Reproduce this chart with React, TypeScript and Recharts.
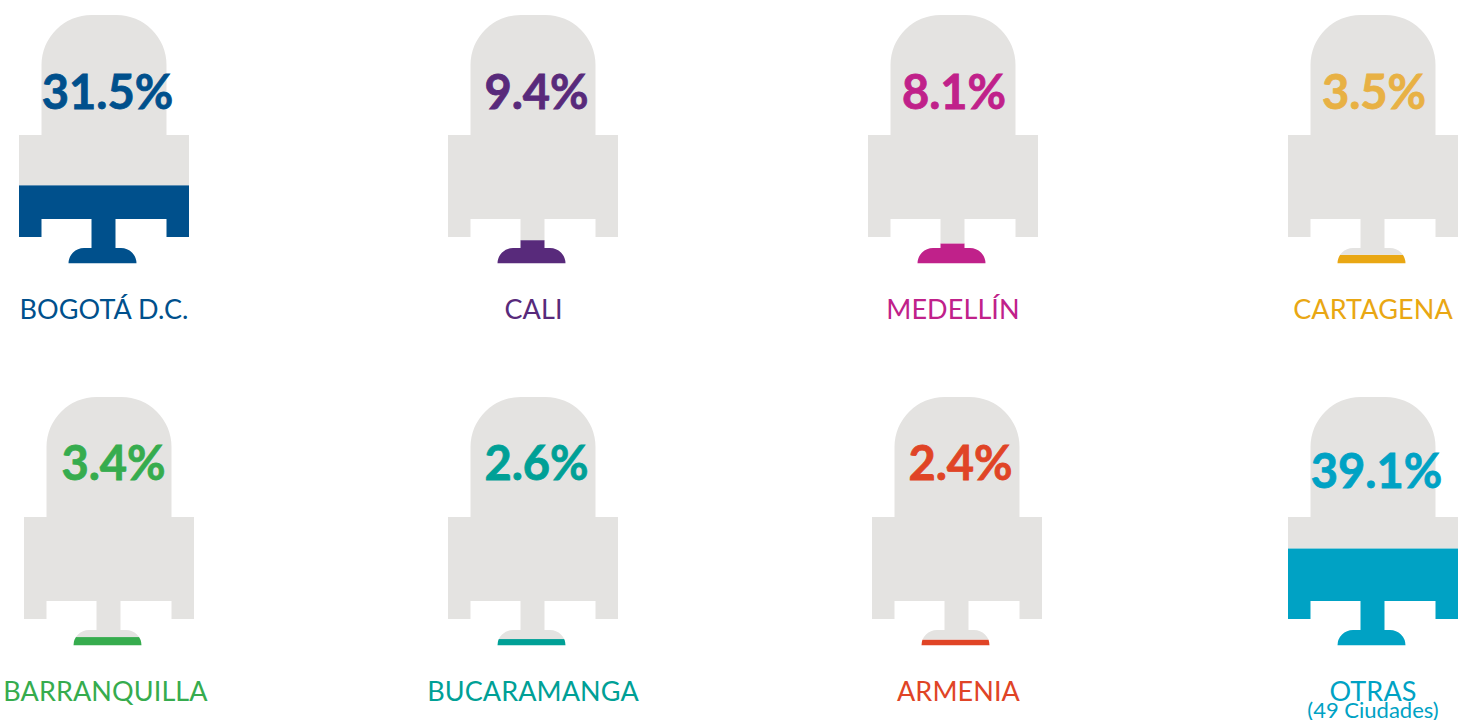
import React from "react";
import { BarChart, Bar, XAxis, YAxis, LabelList } from "recharts";

const cities = ["BOGOTÁ D.C.", "CALI", "MEDELLÍN", "CARTAGENA", "BARRANQUILLA", "BUCARAMANGA", "ARMENIA", "OTRAS"];
const values = [31.5, 9.4, 8.1, 3.5, 3.4, 2.6, 2.4, 39.1];
const colors = ["#00508C", "#582A7B", "#C0218A", "#E9A713", "#36AC4E", "#00A096", "#E04426", "#00A2C4"];
const percentColors = ["#00508C", "#582A7B", "#C0218A", "#E8B144", "#36AC4E", "#00A096", "#E04426", "#00A2C4"];
const subLabels = ["", "", "", "", "", "", "", "(49 Ciudades)"];

const seatLefts = [19, 448, 867.5, 1287.5, 24, 448, 872, 1288];
const seatTops = [15, 15, 15, 15, 397, 397, 397, 397];
const percentDx = [3.5, 3.5, 1, 1, 4.5, 3.5, 3.5, 3.5];
const labelDx = [0, 0.5, 0, 0, -3.5, 0, 1.5, 0];
const percentBaseline = [109, 109, 109, 109, 480, 480, 480, 488];
const GREY = "#E4E3E1";
const SEAT_W = 170;
const SEAT_H = 248.5;
const CHART_W = 260;
const FONT = "Lato, 'Open Sans', sans-serif";

function seatPath(x0: number, top: number, w: number) {
  const s = w / SEAT_W;
  const X = (v: number) => x0 + v * s;
  const Y = (v: number) => top + v * s;
  const r = 50 * s;
  const b = 15.5 * s;
  return [
    `M${X(0)},${Y(120)} H${X(22.5)} V${Y(50)}`,
    `A${r} ${r} 0 0 1 ${X(72.5)} ${Y(0)} H${X(97.5)}`,
    `A${r} ${r} 0 0 1 ${X(147.5)} ${Y(50)} V${Y(120)} H${X(170)} V${Y(222)} H${X(147.5)} V${Y(204)} H${X(96.5)} V${Y(233)} H${X(102)}`,
    `A${b} ${b} 0 0 1 ${X(117.5)} ${Y(248.5)} H${X(49.5)}`,
    `A${b} ${b} 0 0 1 ${X(65)} ${Y(233)} H${X(72.5)} V${Y(204)} H${X(22.5)} V${Y(222)} H${X(0)} Z`,
  ].join(" ");
}

function seatShape(id: string, fill: string, anchor: "top" | "bottom") {
  return (p: any) => {
    const h = (p.width * SEAT_H) / SEAT_W;
    const top = anchor === "top" ? p.y : p.y + p.height - h;
    const clip = `${id}-${anchor}`;
    return (
      <g>
        <clipPath id={clip}>
          <path d={seatPath(p.x, top, p.width)} />
        </clipPath>
        <rect x={p.x} y={p.y} width={p.width} height={p.height} fill={fill} clipPath={`url(#${clip})`} />
      </g>
    );
  };
}

function Seat({ i }: { i: number }) {
  const data = [{ city: cities[i], value: values[i], rest: 100 - values[i] }];
  const color = colors[i];
  const cityTick = (p: any) => (
    <text x={p.x + labelDx[i]} textAnchor="middle" fontFamily={FONT} fill={color}>
      <tspan x={p.x + labelDx[i]} y={304} fontSize={27} letterSpacing={0.1}>{p.payload.value}</tspan>
      {subLabels[i] ? (
        <tspan x={p.x + labelDx[i]} y={321} fontSize={22}>{subLabels[i]}</tspan>
      ) : null}
    </text>
  );
  const percentLabel = (p: any) => (
    <text
      x={p.viewBox.x + p.viewBox.width / 2 + percentDx[i]}
      y={percentBaseline[i] - seatTops[i]}
      textAnchor="middle"
      fontFamily={FONT}
      fontWeight={700}
      fontSize={47}
      stroke={percentColors[i]}
      strokeWidth={0.8}
      fill={percentColors[i]}
    >
      {p.value}%
    </text>
  );
  return (
    <div style={{ position: "absolute", left: seatLefts[i] + SEAT_W / 2 - CHART_W / 2, top: seatTops[i] }}>
      <BarChart
        width={CHART_W}
        height={SEAT_H + 80}
        data={data}
        margin={{ top: 0, right: 0, bottom: 0, left: 0 }}
        barSize={SEAT_W}
      >
        <XAxis dataKey="city" height={80} axisLine={false} tickLine={false} interval={0} tick={cityTick} />
        <YAxis hide domain={[0, 100]} />
        <Bar dataKey="value" stackId="s" isAnimationActive={false} shape={seatShape(`seat${i}`, color, "bottom")} />
        <Bar dataKey="rest" stackId="s" isAnimationActive={false} shape={seatShape(`seat${i}`, GREY, "top")}>
          <LabelList dataKey="value" content={percentLabel} />
        </Bar>
      </BarChart>
    </div>
  );
}

export default function App() {
  return (
    <div style={{ position: "absolute", left: 0, top: 0, width: 1459, height: 720, overflow: "hidden", background: "#fff" }}>
      {cities.map((_, i) => (
        <Seat key={cities[i]} i={i} />
      ))}
    </div>
  );
}
